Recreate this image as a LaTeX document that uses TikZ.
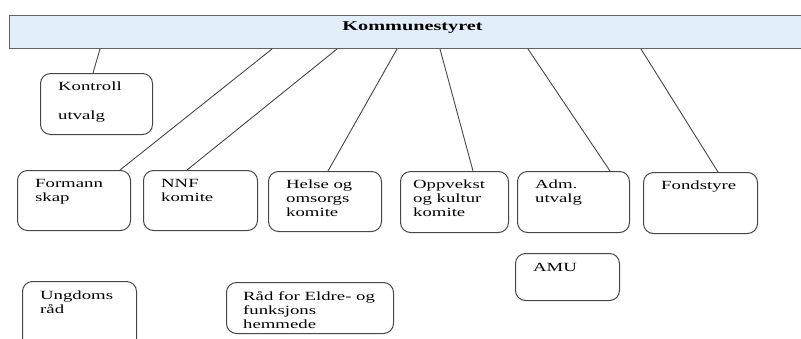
\documentclass[tikz,border=0pt]{standalone}
\usepackage{fontspec}
\setmainfont{Liberation Serif}[FakeStretch=1.5]
\definecolor{KSBlue}{RGB}{226,239,251}
\definecolor{KSGray}{RGB}{70,70,70}

\begin{document}
\begin{tikzpicture}[x=1pt, y=-1pt,
    bar/.style={rectangle, draw=KSGray!85, fill=KSBlue, line width=1pt,
                anchor=north west, minimum width=806pt, minimum height=33pt,
                font=\fontsize{13.5}{15}\selectfont\bfseries, text depth=11pt},
    unit/.style={rectangle, draw=KSGray, line width=1pt, rounded corners=10pt,
                 anchor=north west, minimum width=113pt, minimum height=60pt,
                 inner sep=0pt},
    lbl/.style={anchor=north west, align=left, inner xsep=18pt, inner ysep=9pt,
                font=\fontsize{12.5}{14}\selectfont},
    con/.style={draw=KSGray, line width=0.9pt}
  ]
  \useasboundingbox (0,0) rectangle (801,338);
  \clip (0,0) rectangle (801,338);

  \node[bar] (ks) at (9,15) {Kommunestyret};

  % first row
  \node[unit, minimum width=112pt, minimum height=61pt,
        label={[lbl]north west:{Kontroll\\[15pt]utvalg}}] (ku) at (40,73) {};

  % committees
  \node[unit, label={[lbl]north west:{Formann\\skap}}] (fm) at (17,170) {};
  \node[unit, minimum width=114pt,
        label={[lbl]north west:{NNF\\komite}}] (nnf) at (143,170) {};
  \node[unit, label={[lbl]north west:{Helse og\\omsorgs\\komite}}] (ho) at (268,171) {};
  \node[unit, minimum width=108pt, minimum height=61pt,
        label={[lbl, inner xsep=13pt]north west:{Oppvekst\\og kultur\\komite}}] (ok) at (400,171) {};
  \node[unit, minimum width=112pt, minimum height=61pt,
        label={[lbl]north west:{Adm.\\utvalg}}] (adm) at (517,171) {};
  \node[unit, minimum width=114pt, minimum height=61pt,
        label={[lbl]north west:{Fondstyre}}] (fs) at (643,172) {};

  % lower row
  \node[unit, minimum width=104pt, minimum height=47pt,
        label={[lbl, inner ysep=10pt]north west:{AMU}}] (amu) at (515,253) {};
  \node[unit, minimum width=114pt, minimum height=69pt,
        label={[lbl, inner ysep=10pt]north west:{Ungdoms\\råd}}] (ur) at (22,281) {};
  \node[unit, minimum width=167pt, minimum height=51pt,
        label={[lbl, inner xsep=17pt]north west:{Råd for Eldre- og\\funksjons\\hemmede}}] (re) at (226,282) {};

  \draw[con] ([xshift=91pt]ks.south west)  -- ([xshift=53pt]ku.north west);
  \draw[con] ([xshift=263pt]ks.south west) -- ([xshift=103pt]fm.north west);
  \draw[con] ([xshift=328pt]ks.south west) -- ([xshift=44pt]nnf.north west);
  \draw[con] ([xshift=388pt]ks.south west) -- ([xshift=60pt]ho.north west);
  \draw[con] ([xshift=431pt]ks.south west) -- ([xshift=73pt]ok.north west);
  \draw[con] ([xshift=519pt]ks.south west) -- ([xshift=93pt]adm.north west);
  \draw[con] ([xshift=632pt]ks.south west) -- ([xshift=75pt]fs.north west);
\end{tikzpicture}
\end{document}
